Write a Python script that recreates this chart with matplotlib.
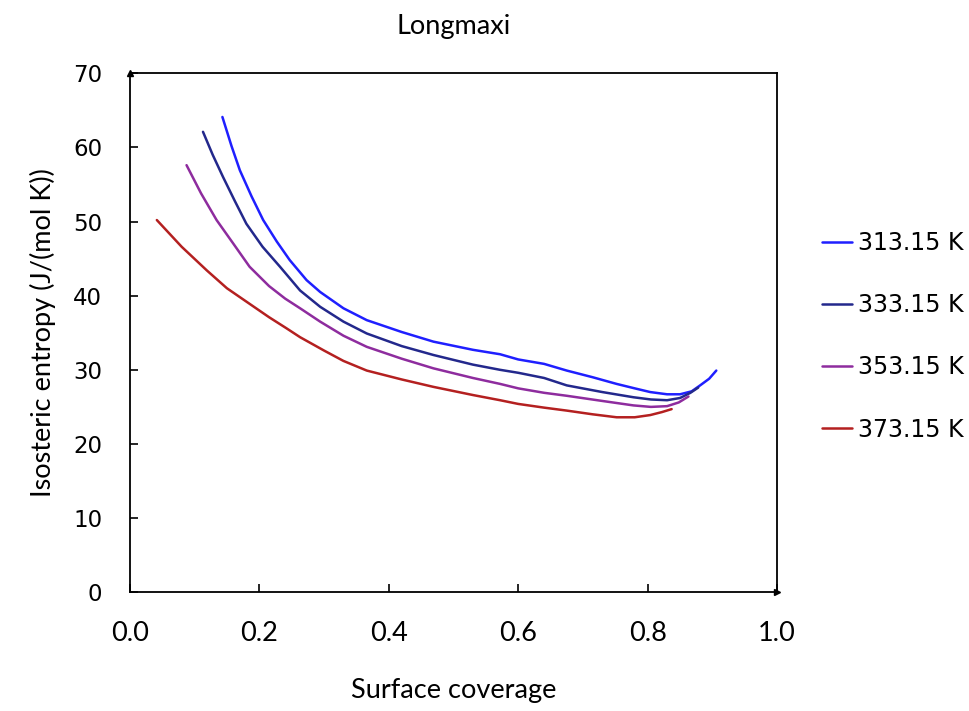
import matplotlib
matplotlib.use("Agg")
import matplotlib.pyplot as plt

# isosteric entropy vs surface coverage, Longmaxi shale
x_313 = [0.143, 0.157, 0.170, 0.188, 0.206, 0.227, 0.247, 0.273, 0.294, 0.33, 0.366, 0.42, 0.469,
         0.53, 0.572, 0.600, 0.64, 0.675, 0.715, 0.752, 0.78, 0.804, 0.83, 0.850, 0.868, 0.881, 0.895, 0.906]
y_313 = [64.1, 60.2, 56.9, 53.4, 50.2, 47.3, 44.8, 42.1, 40.5, 38.3, 36.7, 35.1, 33.8,
         32.7, 32.1, 31.4, 30.8, 29.9, 29.0, 28.1, 27.5, 27.0, 26.7, 26.7, 27.1, 27.9, 28.8, 29.9]

x_333 = [0.113, 0.128, 0.144, 0.162, 0.180, 0.205, 0.232, 0.263, 0.294, 0.33, 0.366, 0.42, 0.469,
         0.53, 0.572, 0.600, 0.64, 0.675, 0.73, 0.778, 0.805, 0.830, 0.850, 0.866, 0.878]
y_333 = [62.1, 59.0, 56.0, 52.8, 49.7, 46.6, 43.9, 40.7, 38.5, 36.5, 34.9, 33.2, 32.0,
         30.7, 30.0, 29.6, 28.9, 27.9, 27.0, 26.3, 26.0, 25.9, 26.2, 26.9, 27.6]

x_353 = [0.0876, 0.110, 0.134, 0.160, 0.185, 0.215, 0.240, 0.263, 0.294, 0.33, 0.366, 0.42, 0.469,
         0.53, 0.572, 0.600, 0.64, 0.675, 0.73, 0.778, 0.805, 0.830, 0.848, 0.863]
y_353 = [57.6, 53.8, 50.2, 47.0, 43.9, 41.3, 39.6, 38.3, 36.5, 34.6, 33.1, 31.5, 30.2,
         28.9, 28.1, 27.5, 26.9, 26.5, 25.8, 25.2, 25.0, 25.1, 25.6, 26.4]

x_373 = [0.0417, 0.08, 0.119, 0.150, 0.185, 0.215, 0.242, 0.263, 0.30, 0.33, 0.366, 0.42, 0.469,
         0.53, 0.572, 0.600, 0.64, 0.675, 0.715, 0.752, 0.78, 0.804, 0.822, 0.837]
y_373 = [50.2, 46.6, 43.4, 41.0, 38.9, 37.1, 35.6, 34.4, 32.6, 31.2, 29.9, 28.7, 27.7,
         26.6, 25.9, 25.4, 24.9, 24.5, 24.0, 23.6, 23.6, 23.9, 24.3, 24.7]

labels = ["313.15 K", "333.15 K", "353.15 K", "373.15 K"]
colors = ["#1f1fff", "#23288c", "#8e2c9e", "#b42020"]

xticks = [0.0, 0.2, 0.4, 0.6, 0.8, 1.0]
yticks = [0, 10, 20, 30, 40, 50, 60, 70]

fig = plt.figure(figsize=(9.69, 7.11), dpi=100)
ax = fig.add_axes([0.134, 0.167, 0.668, 0.73])

series = [(x_313, y_313), (x_333, y_333), (x_353, y_353), (x_373, y_373)]
for (xs, ys), lab, c in zip(series, labels, colors):
    ax.plot(xs, ys, color=c, lw=1.8, label=lab, solid_capstyle="round", solid_joinstyle="round")

ax.set_xlim(0, 1)
ax.set_ylim(0, 70)
ax.set_xticks(xticks)
ax.set_xticklabels([f"{t:.1f}" for t in xticks], fontfamily="Lato", fontsize=19.5)
ax.set_yticks(yticks)
ax.set_yticklabels([str(t) for t in yticks], fontfamily="DejaVu Sans", fontsize=16.5)
ax.tick_params(axis="x", direction="in", length=6, width=1.2, pad=21)
ax.tick_params(axis="y", direction="in", length=6, width=1.2, pad=20)
for s in ax.spines.values():
    s.set_linewidth(1.3)

# small arrow heads at the axis ends
ax.plot([0], [70], marker="^", color="black", ms=4, clip_on=False)
ax.plot([1], [0], marker=">", color="black", ms=4, clip_on=False)

ax.set_xlabel("Surface coverage", fontfamily="Lato", fontsize=19.5, labelpad=23)
ax.set_ylabel("Isosteric entropy (J/(mol K))", fontfamily="Lato", fontsize=19.5, labelpad=12)
ax.set_title("Longmaxi", fontfamily="Lato", fontsize=19.5, pad=28)

fig.legend(loc="center left", bbox_to_anchor=(0.848, 0.527), frameon=False,
           prop={"family": "DejaVu Sans", "size": 17}, handlelength=1.3,
           handletextpad=0.25, labelspacing=1.62, borderpad=0, borderaxespad=0)

fig.savefig("out.png", dpi=100)
